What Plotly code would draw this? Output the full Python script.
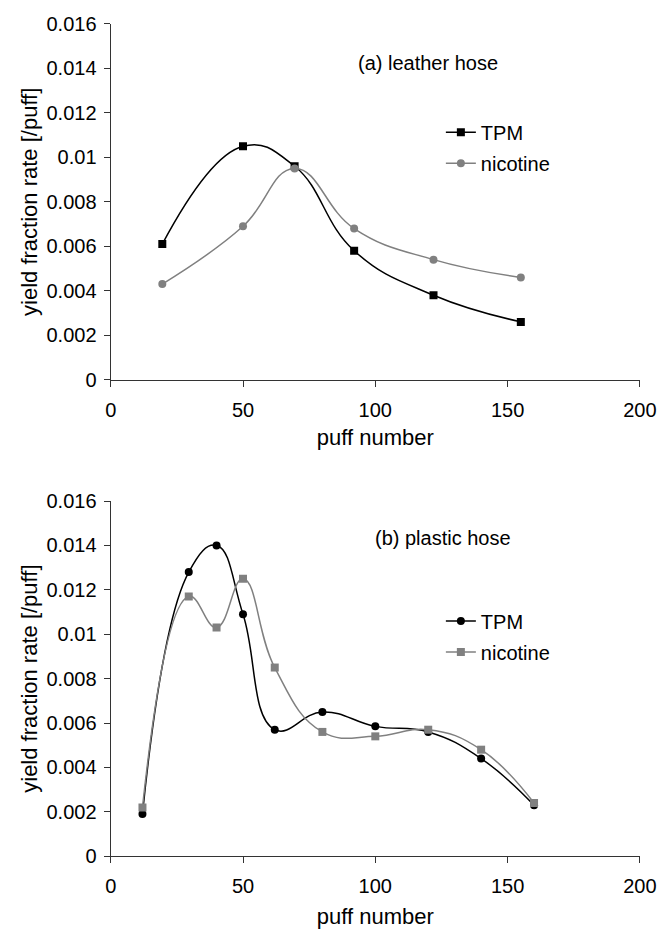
import plotly.graph_objects as go

# ---- data ----
leather_x_tpm = [19.5, 50, 69.5, 92, 122, 155]
leather_tpm = [0.0061, 0.0105, 0.0096, 0.0058, 0.0038, 0.0026]
leather_x_nic = [19.5, 50, 69.5, 92, 122, 155]
leather_nic = [0.0043, 0.0069, 0.0095, 0.0068, 0.0054, 0.0046]

plastic_x = [12, 29.5, 40, 50, 62, 80, 100, 120, 140, 160]
plastic_tpm = [0.0019, 0.0128, 0.0140, 0.0109, 0.0057, 0.0065, 0.00585, 0.0056, 0.0044, 0.0023]
plastic_nic = [0.0022, 0.0117, 0.0103, 0.0125, 0.0085, 0.0056, 0.0054, 0.0057, 0.0048, 0.0024]

y_tickvals = [0, 0.002, 0.004, 0.006, 0.008, 0.01, 0.012, 0.014, 0.016]
y_ticktext = ["0", "0.002", "0.004", "0.006", "0.008", "0.01", "0.012", "0.014", "0.016"]
x_tickvals = [0, 50, 100, 150, 200]
x_ticktext = ["0", "50", "100", "150", "200"]

FONT = "Liberation Sans, Arial, sans-serif"
BLACK = "#000000"
GRAY = "#808080"
SMOOTH = 1.25

fig = go.Figure()

fig.add_trace(go.Scatter(x=leather_x_tpm, y=leather_tpm, name="TPM", mode="lines+markers",
                         line=dict(color=BLACK, width=1.5, shape="spline", smoothing=SMOOTH),
                         marker=dict(symbol="square", size=8, color=BLACK),
                         legendgroup="a1", xaxis="x", yaxis="y", legend="legend"))
fig.add_trace(go.Scatter(x=leather_x_nic, y=leather_nic, name="nicotine", mode="lines+markers",
                         line=dict(color=GRAY, width=1.5, shape="spline", smoothing=SMOOTH),
                         marker=dict(symbol="circle", size=8, color=GRAY),
                         legendgroup="a2", xaxis="x", yaxis="y", legend="legend"))
fig.add_trace(go.Scatter(x=plastic_x, y=plastic_tpm, name="TPM", mode="lines+markers",
                         line=dict(color=BLACK, width=1.5, shape="spline", smoothing=SMOOTH),
                         marker=dict(symbol="circle", size=8, color=BLACK),
                         legendgroup="b1", xaxis="x2", yaxis="y2", legend="legend2"))
fig.add_trace(go.Scatter(x=plastic_x, y=plastic_nic, name="nicotine", mode="lines+markers",
                         line=dict(color=GRAY, width=1.5, shape="spline", smoothing=SMOOTH),
                         marker=dict(symbol="square", size=8, color=GRAY),
                         legendgroup="b2", xaxis="x2", yaxis="y2", legend="legend2"))

axis_common = dict(showgrid=False, zeroline=False, showline=True, linecolor="#333333", linewidth=1.3,
                   ticks="outside", ticklen=6, tickcolor="#333333", tickwidth=1.3, automargin=False,
                   tickfont=dict(family=FONT, size=20, color="#000000"))

title_font = dict(family=FONT, size=22, color="#000000")
xa = dict(axis_common, range=[0, 200], tickvals=x_tickvals, ticktext=x_ticktext, ticklabelstandoff=6)
ya = dict(axis_common, range=[0, 0.016], tickvals=y_tickvals, ticktext=y_ticktext, ticklabelstandoff=3,
          title=dict(text="yield fraction rate [/puff]", font=title_font, standoff=2))

leg_common = dict(xanchor="left", yanchor="top", bgcolor="rgba(0,0,0,0)",
                  traceorder="grouped", tracegroupgap=2,
                  font=dict(family=FONT, size=20, color="#000000"))

fig.update_layout(
    width=659, height=929,
    margin=dict(l=0, r=0, t=0, b=0, autoexpand=False),
    paper_bgcolor="white", plot_bgcolor="white",
    xaxis=dict(xa, domain=[0.168, 0.971], anchor="y",
               title=dict(text="puff number", font=title_font, standoff=9)),
    yaxis=dict(ya, domain=[0.5913, 0.9742], anchor="x"),
    xaxis2=dict(xa, domain=[0.168, 0.971], anchor="y2",
                title=dict(text="puff number", font=title_font, standoff=18)),
    yaxis2=dict(ya, domain=[0.0783, 0.4607], anchor="x2"),
    legend=dict(leg_common, x=0.669, y=0.8785),
    legend2=dict(leg_common, x=0.669, y=0.3526),
    annotations=[
        dict(text="(a) leather hose", x=0.6495, y=0.9322, xref="paper", yref="paper",
             xanchor="center", yanchor="middle",
             showarrow=False, font=dict(family=FONT, size=20, color="#000000")),
        dict(text="(b) plastic hose", x=0.6715, y=0.4212, xref="paper", yref="paper",
             xanchor="center", yanchor="middle",
             showarrow=False, font=dict(family=FONT, size=20, color="#000000")),
    ],
)

fig.write_html("out.html", config={"displayModeBar": False},
               post_script="document.body.style.margin='0px';")
